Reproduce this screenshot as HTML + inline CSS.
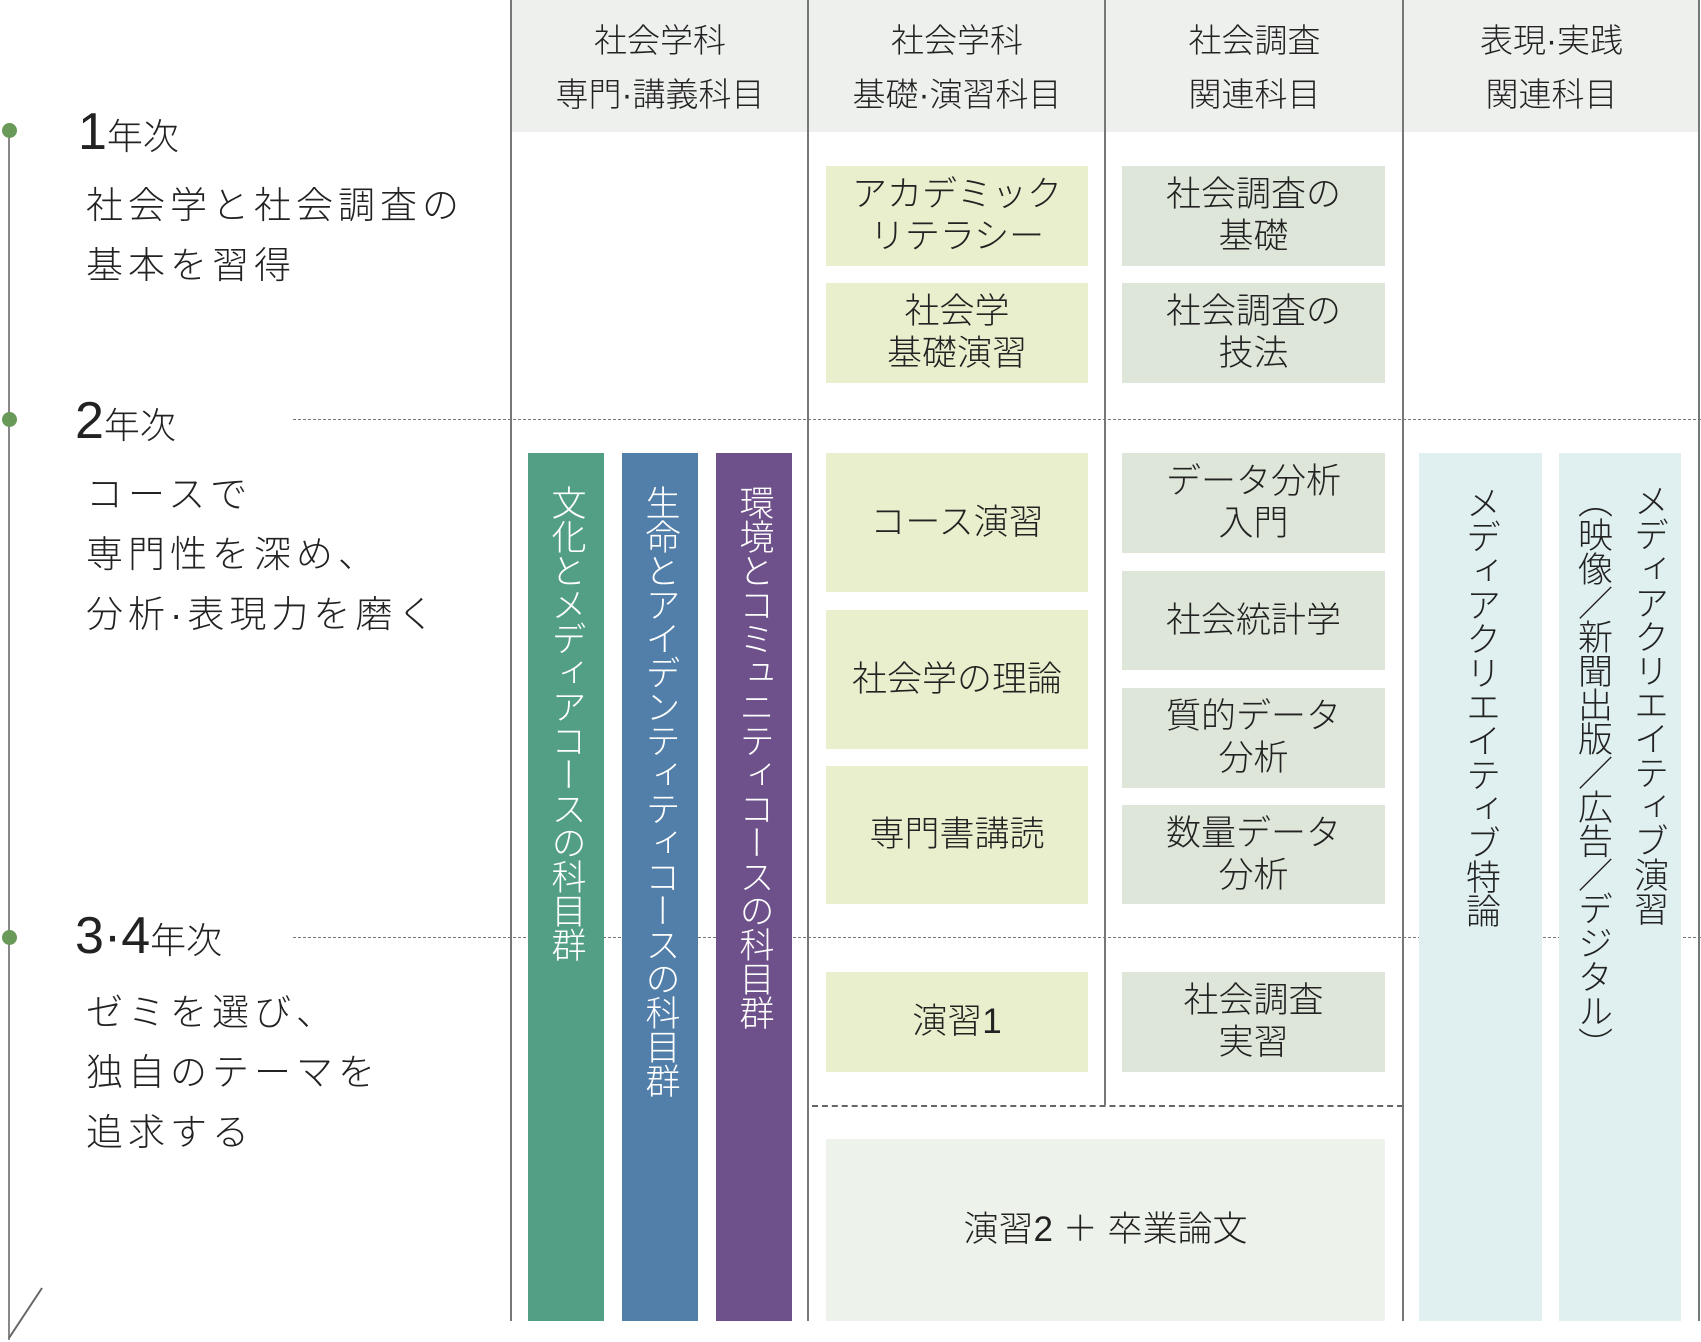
<!DOCTYPE html>
<html><head><meta charset="utf-8"><style>
body{margin:0;width:1701px;height:1342px;position:relative;background:#fff;overflow:hidden;font-family:"Liberation Sans","Noto Sans CJK JP",sans-serif;font-weight:300;color:#222}
div{position:absolute;box-sizing:border-box}
.hd{top:0;height:132px;background:#eef0ee;text-align:center;font-size:33px;line-height:54px;padding-top:14px}
.b{display:flex;align-items:center;justify-content:center;text-align:center;font-size:35px;line-height:42px}
.g{background:#e9efcc}.s{background:#dde6d8}
.v{writing-mode:vertical-rl;font-size:35px;display:flex;justify-content:flex-start;align-items:center;padding-top:32px;letter-spacing:-1px}
.vl{width:2px;background:#777;top:0;height:1321px}
.dash{height:0;border-top:1.5px dashed #777}
.dot{width:15px;height:15px;border-radius:50%;background:#6a9a5a;left:2px}
.lt{left:86px;font-size:37px;line-height:60px;letter-spacing:5px}
</style></head><body>
<div class="hd" style="left:512px;width:296px">社会学科<br>専門·講義科目</div>
<div class="hd" style="left:809px;width:296px">社会学科<br>基礎·演習科目</div>
<div class="hd" style="left:1106px;width:297px">社会調査<br>関連科目</div>
<div class="hd" style="left:1404px;width:295px">表現·実践<br>関連科目</div>

<div class="dash" style="left:293px;width:1408px;top:419px"></div>
<div class="dash" style="left:293px;width:1408px;top:937px"></div>
<div class="dash" style="left:812px;width:591px;top:1105px;border-top:2px dashed #666"></div>

<div class="vl" style="left:510px"></div>
<div class="vl" style="left:807px"></div>
<div class="vl" style="left:1104px;height:1105px"></div>
<div class="vl" style="left:1402px"></div>
<div class="vl" style="left:1698px"></div>

<div style="left:8px;top:130px;width:2px;height:1210px;background:#888"></div>
<svg style="position:absolute;left:0;top:0" width="60" height="1342"><line x1="9" y1="1338" x2="42" y2="1288" stroke="#666" stroke-width="2"/></svg>
<div class="dot" style="top:123px"></div>
<div class="dot" style="top:412px"></div>
<div class="dot" style="top:930px"></div>

<div style="left:78px;top:102px;font-size:36px"><span style="font-size:52px">1</span>年次</div>
<div class="lt" style="top:176px">社会学と社会調査の<br>基本を習得</div>
<div style="left:75px;top:391px;font-size:36px"><span style="font-size:52px">2</span>年次</div>
<div class="lt" style="top:465px">コースで<br>専門性を深め、<br>分析·表現力を磨く</div>
<div style="left:75px;top:906px;font-size:36px"><span style="font-size:52px">3·4</span>年次</div>
<div class="lt" style="top:983px">ゼミを選び、<br>独自のテーマを<br>追求する</div>

<div class="v" style="left:528px;top:453px;width:76px;height:868px;background:#529f85;color:#fff">文化とメディアコースの科目群</div>
<div class="v" style="left:622px;top:453px;width:76px;height:868px;background:#527faa;color:#fff">生命とアイデンティティコースの科目群</div>
<div class="v" style="left:716px;top:453px;width:76px;height:868px;background:#6e508b;color:#fff">環境とコミュニティコースの科目群</div>

<div class="b g" style="left:826px;top:166px;width:262px;height:100px">アカデミック<br>リテラシー</div>
<div class="b g" style="left:826px;top:283px;width:262px;height:100px">社会学<br>基礎演習</div>
<div class="b g" style="left:826px;top:453px;width:262px;height:139px">コース演習</div>
<div class="b g" style="left:826px;top:610px;width:262px;height:139px">社会学の理論</div>
<div class="b g" style="left:826px;top:766px;width:262px;height:138px">専門書講読</div>
<div class="b g" style="left:826px;top:972px;width:262px;height:100px">演習1</div>

<div class="b s" style="left:1122px;top:166px;width:263px;height:100px">社会調査の<br>基礎</div>
<div class="b s" style="left:1122px;top:283px;width:263px;height:100px">社会調査の<br>技法</div>
<div class="b s" style="left:1122px;top:453px;width:263px;height:100px">データ分析<br>入門</div>
<div class="b s" style="left:1122px;top:571px;width:263px;height:99px">社会統計学</div>
<div class="b s" style="left:1122px;top:688px;width:263px;height:100px">質的データ<br>分析</div>
<div class="b s" style="left:1122px;top:805px;width:263px;height:99px">数量データ<br>分析</div>
<div class="b s" style="left:1122px;top:972px;width:263px;height:100px">社会調査<br>実習</div>

<div class="b" style="left:826px;top:1139px;width:559px;height:182px;background:#edf2ea">演習2 ＋ 卒業論文</div>

<div class="v" style="left:1419px;top:453px;width:123px;height:868px;background:#e0f0f0">メディアクリエイティブ特論</div>
<div class="v" style="left:1559px;top:453px;width:122px;height:868px;background:#e0f0f0;line-height:56px;padding-top:30px">メディアクリエイティブ演習<br>（映像／新聞出版／広告／デジタル）</div>
</body></html>
